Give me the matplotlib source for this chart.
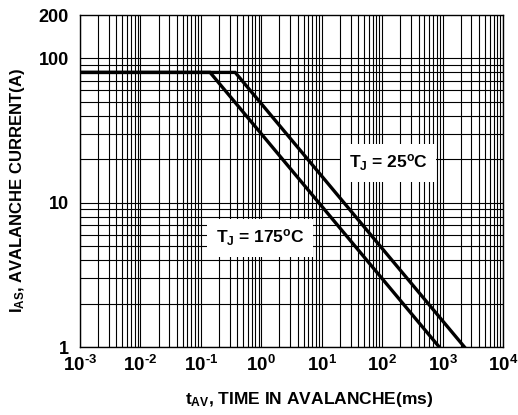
import matplotlib
matplotlib.use('Agg')
import matplotlib.pyplot as plt
import matplotlib.ticker as ticker
import numpy as np

plt.rcParams['font.family'] = 'Liberation Sans'
plt.rcParams['font.weight'] = 'bold'
plt.rcParams['mathtext.fontset'] = 'custom'
plt.rcParams['mathtext.rm'] = 'Liberation Sans:bold'
plt.rcParams['mathtext.it'] = 'Liberation Sans:bold'
plt.rcParams['mathtext.bf'] = 'Liberation Sans:bold'

# (time in ms, current in A)
t_175 = [1e-3, 0.142, 880]
i_175 = [80, 80, 1]
t_25 = [1e-3, 0.37, 2300]
i_25 = [80, 80, 1]

x_ticks = [1e-3, 1e-2, 1e-1, 1e0, 1e1, 1e2, 1e3, 1e4]
x_labels = ['$10^{\u2010' + '3}$', '$10^{\u2010' + '2}$', '$10^{\u2010' + '1}$', r'$10^{0}$',
            r'$10^{1}$', r'$10^{2}$', r'$10^{3}$', r'$10^{4}$']
y_ticks = [1, 10, 100, 200]
y_labels = ['1', '10', '100', '200']

fig = plt.figure(figsize=(5.18, 4.15), dpi=100)
ax = fig.add_axes([80/518, 1-347/415, 423/518, 332/415])

ax.set_xscale('log')
ax.set_yscale('log')
ax.set_xlim(1e-3, 1e4)
ax.set_ylim(1, 200)

# grid lines: every 1..9 per decade
xg = [m * 10.0**e for e in range(-3, 4) for m in range(1, 10)] + [1e4]
yg = [m * 10.0**e for e in range(0, 2) for m in range(1, 10)] + [100]
for v in xg:
    ax.axvline(v, color='black', lw=0.8, zorder=1)
for v in yg:
    ax.axhline(v, color='black', lw=0.8, zorder=1)

ax.plot(t_175, i_175, color='black', lw=2.4, zorder=3, solid_joinstyle='miter')
ax.plot(t_25, i_25, color='black', lw=2.4, zorder=3, solid_joinstyle='miter')

box = dict(facecolor='white', edgecolor='none', pad=6)
ax.text(0.95, 5.7, r'$T_J$ = 175$^o$C', ha='center', va='center',
        fontsize=12.5, fontweight='bold', bbox=box, zorder=4)
ax.text(127, 18.9, r'$T_J$ = 25$^o$C', ha='center', va='center',
        fontsize=12.5, fontweight='bold', bbox=box, zorder=4)

ax.xaxis.set_major_locator(ticker.FixedLocator(x_ticks))
ax.xaxis.set_minor_locator(ticker.NullLocator())
ax.yaxis.set_major_locator(ticker.FixedLocator(y_ticks))
ax.yaxis.set_minor_locator(ticker.NullLocator())
ax.set_xticklabels(x_labels, fontsize=13.5)
ax.set_yticklabels(y_labels, fontsize=13, fontweight='bold')
ax.tick_params(axis='x', length=0, pad=6)
ax.tick_params(axis='y', length=0, pad=8)

for s in ax.spines.values():
    s.set_color('black')
    s.set_linewidth(1.0)

fig.text(309/518, 1-399/415, r'$t_{AV}$, TIME IN AVALANCHE(ms)', ha='center', va='center',
         fontsize=12.5, fontweight='bold')
fig.text(18/518, 1-190/415, r'$I_{AS}$, AVALANCHE CURRENT(A)', ha='center', va='center',
         rotation=90, fontsize=12, fontweight='bold')

fig.savefig('out.png', dpi=100)
